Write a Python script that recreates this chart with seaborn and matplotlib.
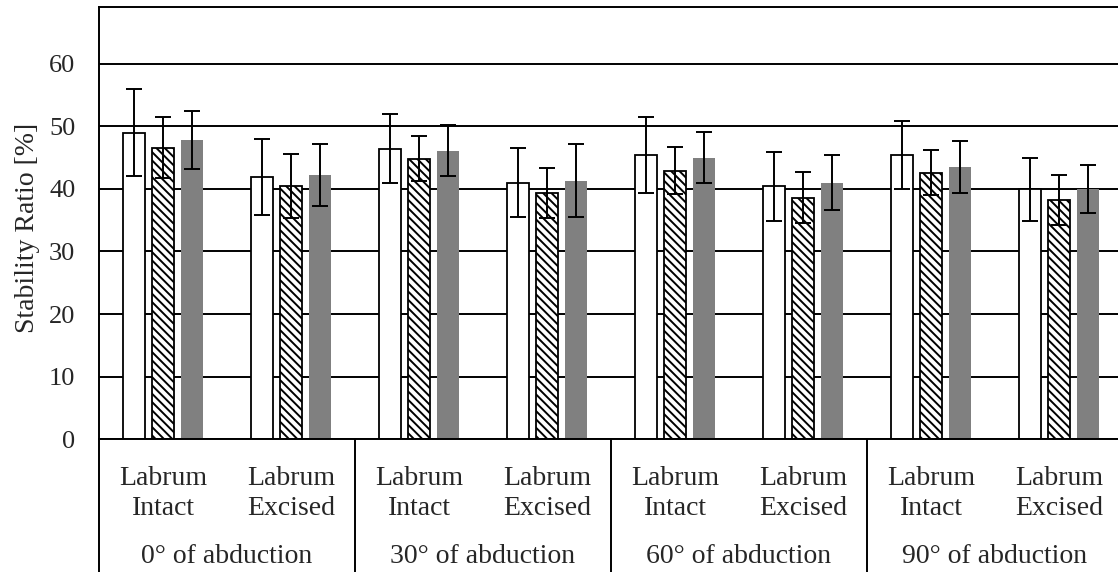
import numpy as np
import pandas as pd
import matplotlib
matplotlib.use("Agg")
import matplotlib.pyplot as plt
import seaborn as sns

# Abduction angles and labrum states along the category axis
angles = ["0° of abduction", "30° of abduction", "60° of abduction", "90° of abduction"]
conditions = ["Labrum\nIntact", "Labrum\nExcised"]
series_names = ["Series 1", "Series 2", "Series 3"]

# Mean stability ratio [%] and error (±) per bar, ordered angle by angle, intact then excised
s1_mean = [49.0, 41.9, 46.4, 41.0, 45.4, 40.4, 45.4, 39.9]
s1_err = [7.0, 6.0, 5.5, 5.5, 6.0, 5.5, 5.5, 5.0]
s2_mean = [46.6, 40.4, 44.8, 39.3, 42.9, 38.6, 42.6, 38.2]
s2_err = [4.8, 5.1, 3.6, 4.0, 3.75, 4.1, 3.65, 4.05]
s3_mean = [47.8, 42.2, 46.1, 41.3, 45.0, 41.0, 43.5, 40.0]
s3_err = [4.6, 4.9, 4.1, 5.8, 4.1, 4.4, 4.2, 3.8]

y_ticks = [0, 10, 20, 30, 40, 50, 60]

slots = [f"{a}|{c}" for a in angles for c in conditions]
means = [s1_mean, s2_mean, s3_mean]
errs = [s1_err, s2_err, s3_err]

rows = []
for name, vals in zip(series_names, means):
    for slot, v in zip(slots, vals):
        rows.append({"slot": slot, "series": name, "value": v})
df = pd.DataFrame(rows)

sns.set_theme(style="white")
plt.rcParams["font.family"] = ["Liberation Serif", "DejaVu Serif"]
plt.rcParams["hatch.linewidth"] = 1.4
plt.rcParams["hatch.color"] = "black"

W, H = 1118, 572
fig = plt.figure(figsize=(W / 100, H / 100), dpi=100)
ax = fig.add_axes([99 / W, (H - 439.3) / H, (1123 - 99) / W, (439.3 - 7.3) / H])

sns.barplot(data=df, x="slot", y="value", hue="series", order=slots,
            hue_order=series_names, width=0.67, gap=0.23, errorbar=None,
            legend=False, ax=ax, zorder=2)

styles = [
    dict(facecolor="white", edgecolor="black", linewidth=1.3, hatch=None),
    dict(facecolor="white", edgecolor="black", linewidth=1.3, hatch="\\\\\\\\"),
    dict(facecolor="#808080", edgecolor="none", linewidth=0, hatch=None),
]
for cont, st, m, e in zip(ax.containers, styles, means, errs):
    for bar in cont:
        bar.set_facecolor(st["facecolor"])
        bar.set_edgecolor(st["edgecolor"])
        bar.set_linewidth(st["linewidth"])
        bar.set_hatch(st["hatch"])
    xs = [b.get_x() + b.get_width() / 2 for b in cont]
    ax.errorbar(xs, m, yerr=e, fmt="none", ecolor="black", elinewidth=1.4,
                capsize=5.5, capthick=1.4, zorder=4)

ax.set_ylim(0, 69)
ax.set_xlim(-0.5, len(slots) - 0.5)
ax.set_yticks(y_ticks)
ax.set_yticklabels([str(t) for t in y_ticks], fontsize=19)
ax.yaxis.grid(True, color="black", linewidth=1.4)
ax.set_axisbelow(True)
ax.tick_params(axis="y", length=0, pad=17)
ax.tick_params(axis="x", length=0, pad=19)
ax.set_xticks(range(len(slots)))
ax.set_xticklabels([c for a in angles for c in conditions], fontsize=20,
                   linespacing=1.3)
ax.set_xlabel("")
ax.set_ylabel("Stability Ratio [%]", fontsize=20)
ax.yaxis.set_label_coords(-0.058, 0.49)

for side in ["left", "bottom", "top", "right"]:
    ax.spines[side].set_visible(True)
    ax.spines[side].set_color("black")
    ax.spines[side].set_linewidth(1.4)

# Group labels and separators under the category axis
bottom = -(H - 439.3) / (439.3 - 7.3)
trans = ax.get_xaxis_transform()
for i, a in enumerate(angles):
    ax.text(2 * i + 0.5, -(563 - 439.3) / (439.3 - 7.3), a, transform=trans,
            ha="center", va="baseline", fontsize=20)
for xsep in [-0.5, 1.5, 3.5, 5.5]:
    ax.plot([xsep, xsep], [0, bottom], transform=trans, color="black",
            linewidth=1.4, clip_on=False)

fig.savefig("out.png", dpi=100)
